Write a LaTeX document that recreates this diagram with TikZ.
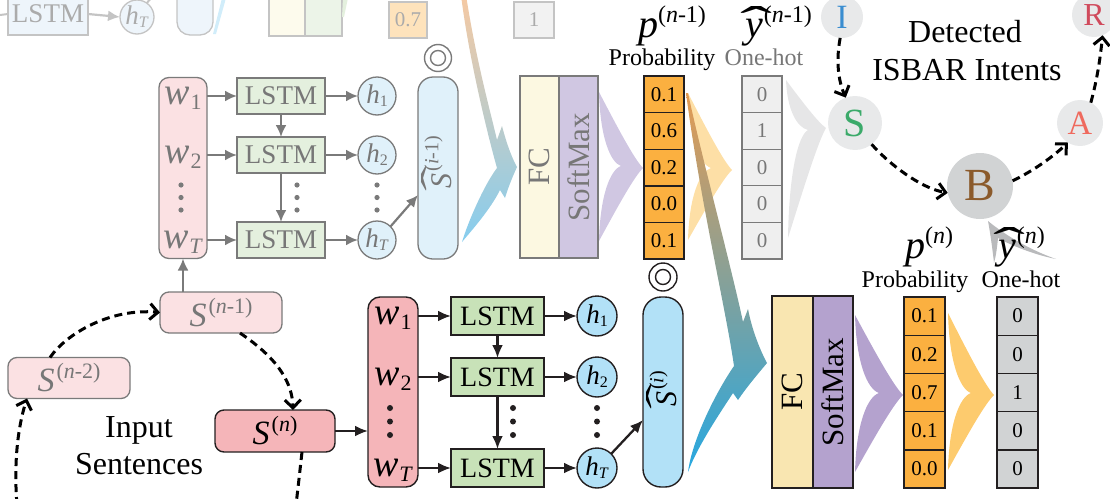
\documentclass[tikz,border=0pt]{standalone}
\usepackage{fontspec}
\usepackage{graphicx}
\setmainfont{Liberation Serif}
\usetikzlibrary{arrows.meta,calc}
\definecolor{pinkF}{HTML}{FBE1E3}
\definecolor{pinkL}{HTML}{F5B5B9}
\definecolor{grnF}{HTML}{E4F0DE}
\definecolor{grnL}{HTML}{C8E2B8}
\definecolor{bluF}{HTML}{E0F1FA}
\definecolor{bluL}{HTML}{B2E1F7}
\definecolor{fcF}{HTML}{FCF8E1}
\definecolor{fcL}{HTML}{F9E6B1}
\definecolor{smF}{HTML}{D0C7E2}
\definecolor{smL}{HTML}{B4A2CE}
\definecolor{prob}{HTML}{FBB040}
\definecolor{ohF}{HTML}{EFEFEF}
\definecolor{ohL}{HTML}{D1D3D4}
\definecolor{lineF}{HTML}{7A7A7A}
\definecolor{txtF}{HTML}{777777}
\definecolor{ink}{HTML}{231F20}
\definecolor{circ}{HTML}{E8E9EA}
\definecolor{topB}{HTML}{C4C4C4}
\definecolor{topT}{HTML}{ABABAB}
\definecolor{topFill}{HTML}{EEF5FB}
\definecolor{funY}{HTML}{FDCB6E}
\definecolor{funYF}{HTML}{FDDFA6}
\definecolor{funG}{HTML}{E6E6E7}
\definecolor{funGB}{HTML}{B9BABC}
\definecolor{upOr}{HTML}{F6C9A2}
\definecolor{upMid}{HTML}{A9D6EF}
\definecolor{upBot}{HTML}{86CDEF}
\definecolor{loOr}{HTML}{E39A52}
\definecolor{loMid}{HTML}{6AAFDC}
\definecolor{loBot}{HTML}{27A8E1}
\definecolor{Icol}{HTML}{3A8DD0}
\definecolor{Scol}{HTML}{3BAA6A}
\definecolor{Bcol}{HTML}{8B5A2B}
\definecolor{Acol}{HTML}{EF6A5E}
\definecolor{Rcol}{HTML}{D04A5C}
\newcommand\fs[1]{\fontsize{#1}{#1}\selectfont}
\newcommand\hatx[4]{\ooalign{#1\cr\hidewidth\kern#4\raisebox{#3}{\scalebox{#2}[1.15]{\char"02C6}}\hidewidth\cr}}
\newcommand\wl[1]{{\fs{38}\textit{w}}\kern1pt\raisebox{-5pt}{\fs{22}#1}}
\newcommand\hl[1]{{\fs{27}\textit{h}}\raisebox{-3pt}{\fs{16}#1}}
\newcommand\Sx[1]{{\fs{34}\textit{S}}\kern2pt\raisebox{13pt}{\fs{22}(#1)}}
\newcommand\Sh[1]{{\fs{30}\hatx{\textit{S}}{2.6}{6pt}{5pt}}\kern2pt\raisebox{13pt}{\fs{20}(#1)}}
\newcommand\pl[1]{{\fs{40}\textit{p}}\raisebox{15pt}{\fs{24}(#1)}}
\newcommand\yl[1]{{\fs{40}\hatx{\textit{y}}{2.4}{-1pt}{5pt}}\kern1pt\raisebox{15pt}{\fs{24}(#1)}}
\newcommand\funnel[9]{\path[#1] (#2,#3) .. controls ({#2+0.45*(#6-#2)},{#3+0.5*(#7-#3)}) and ({#6-0.2*(#6-#2)},{#7-0.12*(#7-#3)}) .. (#6,#7) .. controls ({#6-0.2*(#6-#4)},{#7-0.12*(#7-#5)}) and ({#4+0.45*(#6-#4)},{#5+0.5*(#7-#5)}) .. (#4,#5) .. controls ({#4+0.05*(#8-#4)},{#5+0.6*(#9-#5)}) and ({#8-0.5*(#8-#4)},{#9-0.05*(#9-#5)}) .. (#8,#9) .. controls ({#8-0.5*(#8-#2)},{#9-0.05*(#9-#3)}) and ({#2+0.05*(#8-#2)},{#3+0.6*(#9-#3)}) .. cycle;}
\begin{document}
\begin{tikzpicture}[x=1pt,y=-1pt,
  every node/.style={inner sep=0pt,outer sep=0pt},
  boxF/.style={draw=lineF,line width=1.3},
  boxL/.style={draw=ink,line width=1.4},
  boxT/.style={draw=topB,line width=1.3},
  arrF/.style={draw=lineF,line width=2.2,-{Latex[length=12pt,width=11pt]}},
  arrL/.style={draw=ink,line width=2.3,-{Latex[length=13pt,width=11pt]}},
  arrT/.style={draw=topB,line width=2.2,-{Latex[length=12pt,width=11pt]}},
  dashA/.style={draw=black,line width=3,dash pattern=on 8pt off 5pt,-{Straight Barb[length=8pt,width=16pt]}},
  dashN/.style={draw=black,line width=3,dash pattern=on 8pt off 5pt},
  cellF/.style={draw=lineF,line width=1.3,fill=ohF,minimum width=40,minimum height=36.6,font=\fs{21},text=txtF},
  cellP/.style={draw=ink,line width=1.4,fill=prob,minimum width=40,minimum height=36.6,font=\fs{21}},
  cellL/.style={draw=ink,line width=1.4,minimum width=41,minimum height=38.2,font=\fs{21}},
  lstmF/.style={boxF,fill=grnF,minimum width=88,minimum height=36,text=txtF,font=\fs{27}},
  lstmL/.style={boxL,fill=grnL,minimum width=93,minimum height=38,font=\fs{28}},
  hF/.style={circle,boxF,fill=bluF,minimum size=38,text=txtF},
  hL/.style={circle,boxL,fill=bluL,minimum size=40},
  isb/.style={circle,fill=circ}
]
\useasboundingbox (0,0) rectangle (1110,498);
\clip (0,0) rectangle (1110,498);

% ---------------- top faded row ----------------
\coordinate (lstub) at (0,15);
\node[boxT,fill=topFill,minimum width=80,minimum height=42,text=topT,font=\fs{27}] (lT) at (48,14) {LSTM};
\draw[draw=topB,line width=2] (lstub) -- (lT.west);
\node[circle,boxT,fill=topFill,minimum size=34,text=topT] (hT) at (137,17) {\hl{\textit{T}}};
\draw[arrT] (lT.east) -- (hT.west);
\coordinate (hTo) at (160,-12);
\draw[draw=topB,line width=2] (hT.55) -- (hTo);
\node[boxT,fill=topFill,rounded corners=13pt,minimum width=36,minimum height=80] (sT) at (195,-5) {};
\fill[fill=bluL!60] (222,-2) -- (226,-2) -- (216,34) -- (213,34) -- cycle;
\node[boxT,fill=fcF!60,minimum width=36,minimum height=80] (fcT) at (287,-4) {};
\node[boxT,fill=grnF!70,minimum width=37,minimum height=80] (smT) at (323.5,-4) {};
\fill[fill=grnF] (343,-2) -- (348,-2) -- (344,17) -- (342,17) -- cycle;
\node[boxT,fill=prob!35,minimum width=38,minimum height=36,text=topT,font=\fs{21}] (pT) at (408,20) {0.7};
\node[boxT,fill=ohF!80,minimum width=40,minimum height=36,text=topT,font=\fs{21}] (oT) at (534,20) {1};

% ---------------- upper module (n-1), faded ----------------
\node[circle,draw=lineF,line width=1.4,minimum size=27] (oU) at (438,58) {};
\draw[draw=lineF,line width=1.4] (oU.center) circle (7.5);

\node[boxF,fill=pinkF,rounded corners=10pt,minimum width=48,minimum height=181] (wcU) at (183,168) {};
\node[text=txtF] (wU1) at (183,98) {\wl{1}};
\node[text=txtF] (wU2) at (183,157) {\wl{2}};
\node[text=txtF] (wU3) at (183,242) {\wl{\textit{T}}};
\foreach \yy in {185,197.5,210} {\fill[lineF] (181,\yy) circle (2.6); \fill[lineF] (297,\yy) circle (2.6); \fill[lineF] (377,\yy) circle (2.6);}

\node[lstmF] (lU1) at (281,96) {LSTM};
\node[lstmF] (lU2) at (281,155) {LSTM};
\node[lstmF] (lU3) at (281,240) {LSTM};
\node[hF] (hU1) at (377,96) {\hl{1}};
\node[hF] (hU2) at (377,155) {\hl{2}};
\node[hF] (hU3) at (377,240) {\hl{\textit{T}}};
\foreach \i in {1,2,3} {
  \draw[arrF] (wcU.east |- lU\i) -- (lU\i.west);
  \draw[arrF] (lU\i.east) -- (hU\i.west);
}
\draw[arrF] (lU1.south) -- (lU2.north);
\draw[arrF] (lU2.south) -- (lU3.north);

\node[boxF,fill=bluF,rounded corners=15pt,minimum width=40,minimum height=182] (shU) at (438,168) {};
\node[rotate=90,text=txtF] (shUt) at (438,162) {\Sh{\textit{i}-1}};
\draw[arrF] (hU3.45) -- ($(shU.west)+(0,27)$);

\node[boxF,fill=fcF,rotate=90,minimum width=182,minimum height=39,text=txtF,font=\fs{31}] (fcU) at (539.5,167) {FC};
\node[boxF,fill=smF,rotate=90,minimum width=182,minimum height=39,text=txtF,font=\fs{31}] (smU) at (578.5,167) {SoftMax};

\foreach \v [count=\i] in {0.1,0.6,0.2,0.0,0.1} {\node[cellP] (pU\i) at (664,{76+36.6*(\i-0.5)}) {\v};}
\foreach \v [count=\i] in {0,1,0,0,0} {\node[cellF] (yU\i) at (762,{76+36.6*(\i-0.5)}) {\v};}

% ---------------- lower module (n) ----------------
\node[circle,draw=ink,line width=1.4,minimum size=28] (oL) at (663,277) {};
\draw[draw=ink,line width=1.4] (oL.center) circle (7.5);

\node[boxF,fill=pinkF,rounded corners=9pt,minimum width=122,minimum height=41,text=txtF] (s2) at (69,378) {\Sx{\textit{n}-2}};
\node[boxF,fill=pinkF,rounded corners=9pt,minimum width=122,minimum height=41,text=txtF] (s1) at (221,312.5) {\Sx{\textit{n}-1}};
\node[boxL,fill=pinkL,rounded corners=9pt,minimum width=120,minimum height=42] (s0) at (275,431) {\Sx{\textit{n}}};
\draw[arrF] (wcU.south |- s1.north) -- (wcU.south);

\coordinate (c0) at (17,505);
\coordinate (c1) at (296,505);
\draw[dashA] (c0) .. controls (13,455) and (20,420) .. ($(s2.south)+(-42,0)$);
\draw[dashA] ($(s2.north)+(-19,0)$) .. controls (66,334) and (110,308) .. (s1.west);
\draw[dashA] ($(s1.south)+(19,0)$) .. controls (262,348) and (292,372) .. ($(s0.north)+(18,0)$);
\draw[dashN] ($(s0.south)+(27,0)$) .. controls (300,470) and (298,488) .. (c1);

\node[font=\fs{32}] (inp1) at (139,430) {Input};
\node[font=\fs{32}] (inp2) at (139,464) {Sentences};

\node[boxL,fill=pinkL,rounded corners=12pt,minimum width=50,minimum height=190] (wcL) at (393,392) {};
\draw[arrL] (s0.east) -- (wcL.west |- s0.east);
\node (wL1) at (393,318) {\wl{1}};
\node (wL2) at (393,379) {\wl{2}};
\node (wL3) at (393,470) {\wl{\textit{T}}};
\foreach \yy in {408,421.5,435} {\fill[ink] (390,\yy) circle (3); \fill[ink] (513,\yy) circle (3); \fill[ink] (597,\yy) circle (3);}

\node[lstmL] (lL1) at (497.5,316) {LSTM};
\node[lstmL] (lL2) at (497.5,377) {LSTM};
\node[lstmL] (lL3) at (497.5,468) {LSTM};
\node[hL] (hL1) at (597,316) {\hl{1}};
\node[hL] (hL2) at (597,377) {\hl{2}};
\node[hL] (hL3) at (597,468) {\hl{\textit{T}}};
\foreach \i in {1,2,3} {
  \draw[arrL] (wcL.east |- lL\i) -- (lL\i.west);
  \draw[arrL] (lL\i.east) -- (hL\i.west);
}
\draw[arrL] (lL1.south) -- (lL2.north);
\draw[arrL] (lL2.south) -- (lL3.north);

\node[boxL,fill=bluL,rounded corners=18pt,minimum width=40,minimum height=190] (shL) at (663,392) {};
\node[rotate=90] (shLt) at (663,389) {\Sh{\textit{i}}};
\draw[arrL] (hL3.45) -- ($(shL.west)+(0,28)$);

\node[boxL,fill=fcL,rotate=90,minimum width=192,minimum height=41,font=\fs{31}] (fcL) at (792.5,392) {FC};
\node[boxL,fill=smL,rotate=90,minimum width=192,minimum height=40,font=\fs{31}] (smL) at (833,392) {SoftMax};

\foreach \v [count=\i] in {0.1,0.2,0.7,0.1,0.0} {\node[cellL,fill=prob] (pL\i) at (924.5,{297+38.2*(\i-0.5)}) {\v};}
\foreach \v [count=\i] in {0,0,1,0,0} {\node[cellL,fill=ohL] (yL\i) at (1017.5,{297+38.2*(\i-0.5)}) {\v};}

% ---------------- funnels ----------------
\funnel{fill=smF}{599}{92}{599}{241}{643}{168}{621}{166}
\funnel{fill=funYF}{688}{93}{688}{240}{732}{170}{711}{168}
\funnel{fill=funG}{786}{80}{788}{238}{826}{128}{808}{130}
\funnel{fill=smL}{855}{315}{855}{472}{903}{395}{879}{393}
\funnel{fill=funY}{948}{313}{948}{470}{994}{395}{971}{393}
\path[fill=funGB] (994,263) .. controls (992,245) and (990,232) .. (988,221) .. controls (1005,235) and (1030,250) .. (1056,259) .. controls (1035,255) and (1010,245) .. (998,238) .. controls (997,248) and (996,256) .. cycle;

% upper big blue (faded)
\path[top color=upOr, middle color=upMid, bottom color=upBot]
  (466,-5) .. controls (476,60) and (490,110) .. (497,140) -- (502,126)
  .. controls (507,145) and (512,158) .. (517,167)
  .. controls (512,178) and (508,188) .. (505,198) -- (500,190)
  .. controls (490,210) and (472,230) .. (462,242)
  .. controls (468,222) and (484,185) .. (497,168)
  .. controls (489,140) and (469,60) .. (461,-5) -- cycle;

% lower big blue
\path[top color=loOr, middle color=loMid, bottom color=loBot]
  (688,93) .. controls (700,150) and (732,270) .. (743,322) -- (748,309)
  .. controls (752,330) and (760,350) .. (767,363)
  .. controls (757,375) and (746,388) .. (738,400) -- (733,393)
  .. controls (722,410) and (698,445) .. (688,472)
  .. controls (692,440) and (716,392) .. (734,366)
  .. controls (726,310) and (700,200) .. (686,93) -- cycle;

% ---------------- labels ----------------
\node[anchor=base west] (pUl) at (638,37) {\pl{\textit{n}-1}};
\node[anchor=base,font=\fs{24}] (pUt) at (662,65) {Probability};
\node[anchor=base west] (yUl) at (745,37) {\yl{\textit{n}-1}};
\node[anchor=base,font=\fs{24},text=txtF] (yUt) at (764,65) {One-hot};
\node[anchor=base west] (pLl) at (905,258) {\pl{\textit{n}}};
\node[anchor=base,font=\fs{24}] (pLt) at (915,287) {Probability};
\node[anchor=base west] (yLl) at (998,258) {\yl{\textit{n}}};
\node[anchor=base,font=\fs{24}] (yLt) at (1021,287) {One-hot};

% ---------------- ISBAR ----------------
\node[isb,minimum size=42,text=Icol,font=\fs{34}] (I) at (842,17) {I};
\node[isb,minimum size=54,text=Scol,font=\fs{40}] (S) at (855,123) {S};
\node[isb,fill=ohL,minimum size=66,text=Bcol,font=\fs{46}] (B) at (980,186) {B};
\node[isb,minimum size=46,text=Acol,font=\fs{34}] (A) at (1080,123) {A};
\node[isb,minimum size=44,text=Rcol,font=\fs{32}] (R) at (1094,15) {R};
\node[font=\fs{32},anchor=base] (det1) at (965,42) {Detected};
\node[font=\fs{32},anchor=base] (det2) at (967,80) {ISBAR Intents};
\draw[dashA] (I.265) .. controls (836,60) and (838,80) .. (S.110);
\draw[dashA] (S.-52) .. controls (888,163) and (920,188) .. (B.192);
\draw[dashA] (B.9) .. controls (1035,170) and (1055,155) .. (A.238);
\draw[dashA] (A.62) .. controls (1097,80) and (1100,60) .. (R.-67);
\end{tikzpicture}
\end{document}
